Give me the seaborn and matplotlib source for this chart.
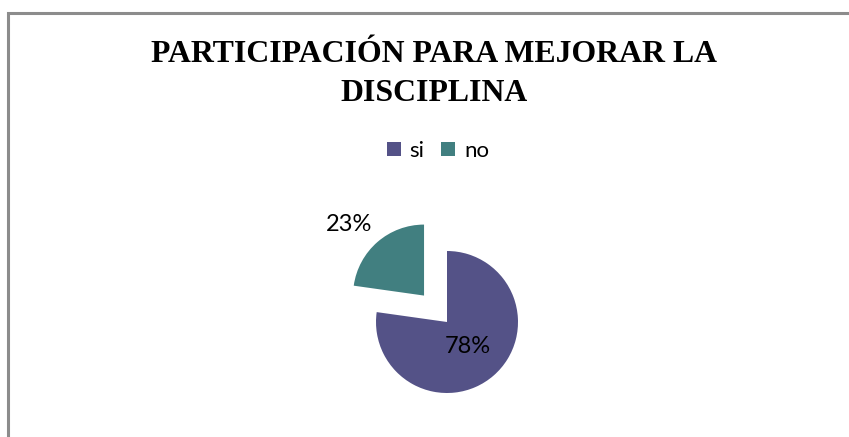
import numpy as np
import matplotlib
matplotlib.use("Agg")
import matplotlib.pyplot as plt
import matplotlib.patches as mpatches
import seaborn as sns

categories = ["si", "no"]
values = [78, 23]
colors = ["#545287", "#417F80"]
title = "PARTICIPACIÓN PARA MEJORAR LA\nDISCIPLINA"

sns.set_theme(style="white")
plt.rcParams['font.family'] = ['Lato', 'DejaVu Sans']
plt.rcParams['text.color'] = 'black'

W, H = 849, 437
fig = plt.figure(figsize=(W / 100, H / 100), dpi=100)
fig.patch.set_facecolor("white")

# outer frame (extends beyond right/bottom edges)
frame = mpatches.Rectangle((7.5 / W, -0.2), 1.2, (H - 13.5) / H + 0.2,
                           transform=fig.transFigure, fill=False,
                           edgecolor="#8c8c8c", linewidth=2.2)
fig.patches.append(frame)

ax = fig.add_axes([0, 0, 1, 1])

cx, cy, r = 447, H - 322, 71
wedges, _ = ax.pie(values, colors=colors, startangle=90, counterclock=False,
                   explode=[0, 35], center=(cx, cy), radius=r,
                   wedgeprops=dict(linewidth=0))
ax.set_xlim(0, W)
ax.set_ylim(0, H)
ax.set_aspect("equal")
ax.axis("off")

# label placement: inside (centered) for the large slice, outside end for the small one
placements = [("inside", 0.45), ("outside", 1.2)]
for w, v, (kind, d) in zip(wedges, values, placements):
    ang = np.deg2rad((w.theta1 + w.theta2) / 2)
    x0, y0 = w.center
    px, py = x0 + d * r * np.cos(ang), y0 + d * r * np.sin(ang)
    if kind == "inside":
        ha, va = "center", "center"
    else:
        ha = "right" if np.cos(ang) < 0 else "left"
        va = "baseline" if np.sin(ang) > 0 else "top"
        px += 4
    ax.text(px, py, f"{v}%", ha=ha, va=va, fontsize=17, color="black")

fig.text(434 / W, 1 - 74 / H, title, ha="center", va="center",
         fontsize=22.9, fontweight="bold", family="Liberation Serif",
         linespacing=1.45, color="black")

handles = [mpatches.Patch(facecolor=c, edgecolor="none", label=l)
           for c, l in zip(colors, categories)]
fig.legend(handles=handles, loc="center", bbox_to_anchor=(438 / W, 1 - 151 / H),
           ncol=2, frameon=False, fontsize=16, handlelength=0.62, handleheight=0.62,
           handletextpad=0.4, columnspacing=0.75, labelcolor="black")

fig.savefig("out.png", dpi=100, facecolor="white")
